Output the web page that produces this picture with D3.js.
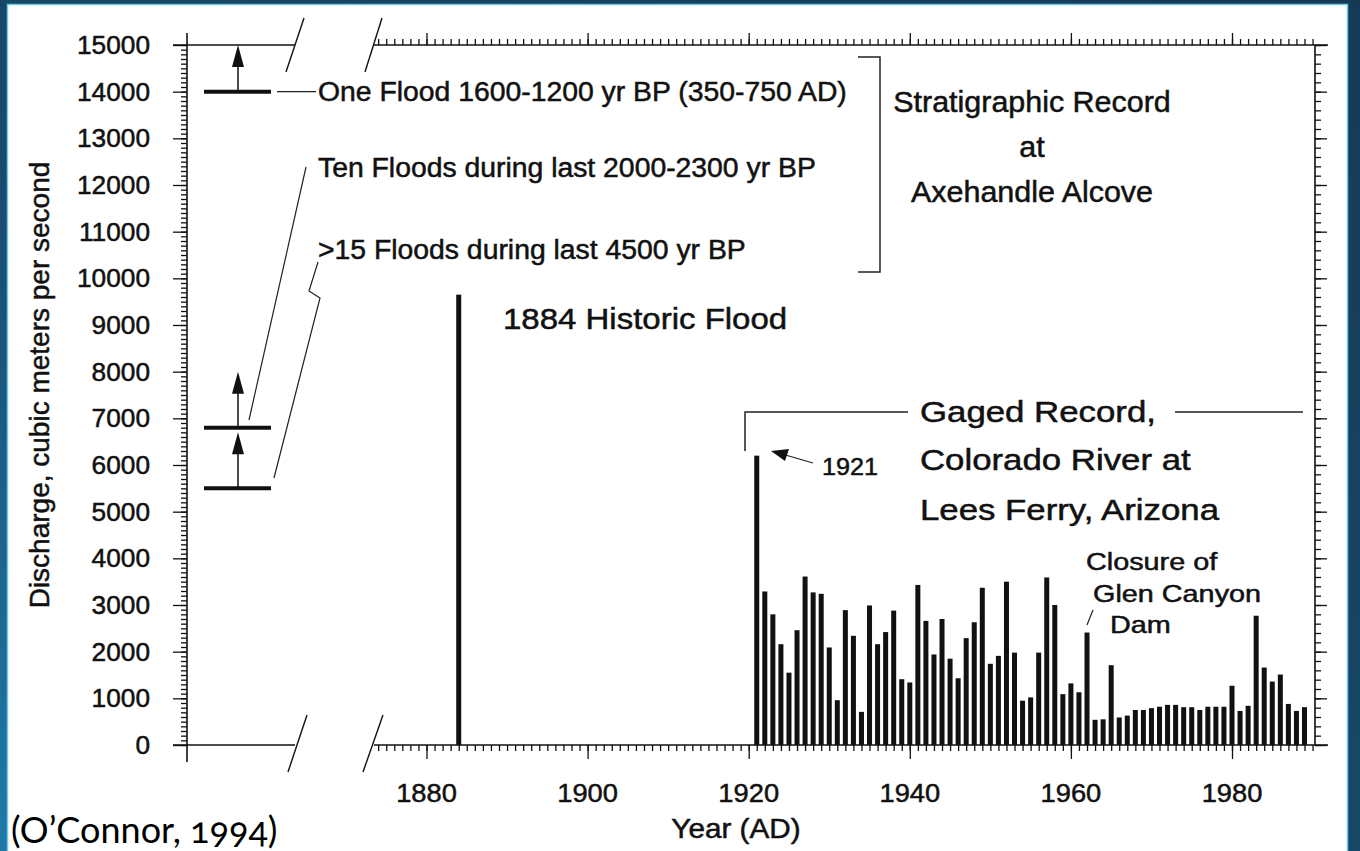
<!DOCTYPE html>
<html>
<head>
<meta charset="utf-8">
<script src="https://cdn.jsdelivr.net/npm/d3@7"></script>
<style>
  body { margin: 0; background: #fff; }
  text { font-family: Arial, "Liberation Sans", Helvetica, sans-serif; fill: #111; stroke: #111; stroke-width: 0.5px; }
  .cite { font-family: Lato, "Open Sans", sans-serif; font-variant-numeric: oldstyle-nums; fill: #000; stroke: none; }
</style>
</head>
<body>
<svg id="chart" width="1360" height="851"></svg>
<script>
// Gaged record, Colorado River at Lees Ferry: annual peak discharge (m3/s)
const gagedYears = [1921,1922,1923,1924,1925,1926,1927,1928,1929,1930,
                    1931,1932,1933,1934,1935,1936,1937,1938,1939,1940,
                    1941,1942,1943,1944,1945,1946,1947,1948,1949,1950,
                    1951,1952,1953,1954,1955,1956,1957,1958,1959,1960,
                    1961,1962,1963,1964,1965,1966,1967,1968,1969,1970,
                    1971,1972,1973,1974,1975,1976,1977,1978,1979,1980,
                    1981,1982,1983,1984,1985,1986,1987,1988,1989]
const gagedPeaks = [6200,3290,2800,2160,1550,2460,3610,3270,3240,2090,
                    960,2890,2340,710,2990,2160,2420,2880,1410,1340,
                    3430,2660,1940,2700,1850,1430,2290,2630,3370,1740,
                    1910,3500,1980,950,1020,1980,3590,3000,1090,1320,
                    1130,2410,540,550,1710,590,630,750,750,790,
                    820,860,860,810,810,750,820,820,820,1270,
                    730,840,2770,1660,1360,1510,880,730,810]

// Historic flood
const historicYears = [1884]
const historicPeaks = [9650]

// Stratigraphic record: minimum discharge of each flood group and arrow tip
const paleoLevels = [14000, 6800, 5500]
const paleoArrowTo = [15000, 8000, 6700]

// Axis ticks
const yTickValues = [0,1000,2000,3000,4000,5000,6000,7000,8000,9000,10000,11000,12000,13000,14000,15000]
const xTickValues = [1880,1900,1920,1940,1960,1980]

const svg = d3.select('#chart')

// slide frame
const defs = svg.append('defs')
const grad = defs.append('linearGradient').attr('id','frame')
    .attr('x1',1).attr('y1',0).attr('x2',0).attr('y2',1)
grad.append('stop').attr('offset','0%').attr('stop-color','#163a56')
grad.append('stop').attr('offset','60%').attr('stop-color','#184a6c')
grad.append('stop').attr('offset','100%').attr('stop-color','#2079a8')
svg.append('rect').attr('width',1360).attr('height',851).attr('fill','url(#frame)')
svg.append('rect').attr('x',7.5).attr('y',4.5).attr('width',1340).attr('height',860)
   .attr('fill','#fff').attr('stroke','#6fcbe3').attr('stroke-width',1.5)

// scales
const yScale = d3.scaleLinear().domain([0,15000]).range([745,45])
const xScale = d3.scaleLinear().domain([1880,1980]).range([426.5,1232])

const plotLeft = 374, plotRight = 1315, axisEnd = 1328
const leftAxisX = 187, leftBreak = 295

const g = svg.append('g').attr('stroke','#111').attr('fill','none')

// ---- left (prehistoric) section
g.append('line').attr('x1',leftAxisX).attr('x2',leftAxisX).attr('y1',33).attr('y2',762).attr('stroke-width',1.6)
g.append('line').attr('x1',173).attr('x2',leftBreak).attr('y1',yScale(15000)).attr('y2',yScale(15000)).attr('stroke-width',1.5)
g.append('line').attr('x1',173).attr('x2',leftBreak).attr('y1',yScale(0)).attr('y2',yScale(0)).attr('stroke-width',1.5)

// left y ticks
const leftAxis = d3.axisLeft(yScale).tickValues(yTickValues).tickSize(14).tickFormat('')
const leftMinor = d3.axisLeft(yScale).ticks(150).tickSize(6).tickFormat('')
svg.append('g').attr('class','ax').attr('transform',`translate(${leftAxisX},0)`).call(leftMinor)
svg.append('g').attr('class','ax').attr('transform',`translate(${leftAxisX},0)`).call(leftAxis)

// y tick labels
svg.append('g').selectAll('text').data(yTickValues).join('text')
   .attr('transform', d => `translate(150,${yScale(d)+9}) scale(1.05,1)`)
   .attr('text-anchor','end').style('font-size','25px')
   .text(d => d)

// ---- right (historic + gaged) section
const bottomMinor = d3.axisBottom(xScale).tickValues(d3.range(1874,1991)).tickSize(6).tickFormat('')
const bottomMajor = d3.axisBottom(xScale).tickValues(xTickValues).tickSize(14).tickFormat('')
const topMinor = d3.axisTop(xScale).tickValues(d3.range(1874,1991)).tickSize(6).tickFormat('')
const topMajor = d3.axisTop(xScale).tickValues(xTickValues).tickSize(12).tickFormat('')
const rightMinor = d3.axisRight(yScale).ticks(75).tickSize(6).tickFormat('')
const rightMajor = d3.axisRight(yScale).tickValues(yTickValues).tickSize(12).tickFormat('')

svg.append('g').attr('class','ax').attr('transform','translate(0,745)').call(bottomMinor)
svg.append('g').attr('class','ax').attr('transform','translate(0,745)').call(bottomMajor)
svg.append('g').attr('class','ax').attr('transform','translate(0,45)').call(topMinor)
svg.append('g').attr('class','ax').attr('transform','translate(0,45)').call(topMajor)
svg.append('g').attr('class','ax').attr('transform',`translate(${plotRight},0)`).call(rightMinor)
svg.append('g').attr('class','ax').attr('transform',`translate(${plotRight},0)`).call(rightMajor)

svg.selectAll('.ax .domain').remove()
svg.selectAll('.ax line').attr('stroke','#111').attr('stroke-width',1.3)

g.append('line').attr('x1',plotLeft).attr('x2',axisEnd).attr('y1',745).attr('y2',745).attr('stroke-width',1.6)
g.append('line').attr('x1',plotLeft).attr('x2',axisEnd).attr('y1',45).attr('y2',45).attr('stroke-width',1.6)
g.append('line').attr('x1',plotRight).attr('x2',plotRight).attr('y1',45).attr('y2',745).attr('stroke-width',1.6)

// axis break slashes
const slashes = [[288,772,307,715],[363,772,383,715],[286,72,304,18],[365,72,382,18]]
g.selectAll('.slash').data(slashes).join('line')
  .attr('x1',d=>d[0]).attr('y1',d=>d[1]).attr('x2',d=>d[2]).attr('y2',d=>d[3]).attr('stroke-width',1.4)

// x tick labels
svg.append('g').selectAll('text').data(xTickValues).join('text')
   .attr('transform', d => `translate(${xScale(d)},802) scale(1.05,1)`)
   .attr('text-anchor','middle').style('font-size','26px')
   .text(d => d)

// bars
const barW = 5
svg.append('g').selectAll('rect').data(gagedYears).join('rect')
   .attr('x', d => xScale(d) - barW/2).attr('width', barW)
   .attr('y', (d,i) => yScale(gagedPeaks[i]))
   .attr('height', (d,i) => yScale(0) - yScale(gagedPeaks[i]))
   .attr('fill','#111')
svg.append('g').selectAll('rect').data(historicYears).join('rect')
   .attr('x', d => xScale(d) - barW/2).attr('width', barW)
   .attr('y', (d,i) => yScale(historicPeaks[i]))
   .attr('height', (d,i) => yScale(0) - yScale(historicPeaks[i]))
   .attr('fill','#111')

// paleoflood markers with arrows
const markX1 = 204, markX2 = 271, markC = 238
paleoLevels.forEach((v,i) => {
  g.append('line').attr('x1',markX1).attr('x2',markX2).attr('y1',yScale(v)).attr('y2',yScale(v)).attr('stroke-width',4)
  const tip = yScale(paleoArrowTo[i])
  g.append('line').attr('x1',markC).attr('x2',markC).attr('y1',yScale(v)).attr('y2',tip+15).attr('stroke-width',1.5)
  svg.append('path').attr('d',`M${markC},${tip} L${markC-6},${tip+22} L${markC+6},${tip+22} Z`).attr('fill','#111')
})

// leaders
const thin = svg.append('g').attr('stroke','#222').attr('fill','none').attr('stroke-width',1.2)
thin.append('line').attr('x1',277).attr('x2',316).attr('y1',yScale(14000)).attr('y2',yScale(14000))
thin.append('line').attr('x1',249).attr('y1',420).attr('x2',306).attr('y2',167)
thin.append('polyline').attr('points','274,478 320,298 309,291 318,262')
thin.append('path').attr('d','M858,57 H880 V272 H858').attr('stroke-width',1.5)
thin.append('path').attr('d','M745,451 V412 H908 M1175,412 H1303').attr('stroke-width',1.5)
thin.append('line').attr('x1',1087).attr('y1',625).attr('x2',1093).attr('y2',610)
thin.append('line').attr('x1',813).attr('y1',463).attr('x2',782).attr('y2',454)
svg.append('path').attr('d','M771,451 L789,449 L785,461 Z').attr('fill','#111')

// labels
function label(x, y, str, size, sx, anchor, cls) {
  svg.append('text').attr('class', cls || null)
     .attr('transform', `translate(${x},${y}) scale(${sx},1)`)
     .attr('text-anchor', anchor || 'start')
     .style('font-size', size + 'px')
     .text(str)
}
label(318, 101, 'One Flood 1600-1200 yr BP (350-750 AD)', 27, 1.05)
label(318, 177, 'Ten Floods during last 2000-2300 yr BP', 27, 1.05)
label(318, 259, '>15 Floods during last 4500 yr BP', 27, 1.05)
label(1032, 112, 'Stratigraphic Record', 29, 1.05, 'middle')
label(1032, 157, 'at', 29, 1.05, 'middle')
label(1032, 202, 'Axehandle Alcove', 29, 1.05, 'middle')
label(503, 329, '1884 Historic Flood', 30, 1.1)
label(920, 422, 'Gaged Record,', 29, 1.2)
label(920, 470, 'Colorado River at', 29, 1.2)
label(920, 520, 'Lees Ferry, Arizona', 29, 1.2)
label(822, 475, '1921', 24, 1.05)
label(1086, 570, 'Closure of', 24, 1.2)
label(1093, 602, 'Glen Canyon', 24, 1.2)
label(1110, 633, 'Dam', 24, 1.2)
label(736, 838, 'Year (AD)', 27, 1.1, 'middle')

svg.append('text').attr('transform','translate(49,385) rotate(-90)')
   .attr('text-anchor','middle').style('font-size','28px')
   .text('Discharge, cubic meters per second')

label(11, 843, '(O\u2019Connor, 1994)', 36, 1, 'start', 'cite')
</script>
</body>
</html>
